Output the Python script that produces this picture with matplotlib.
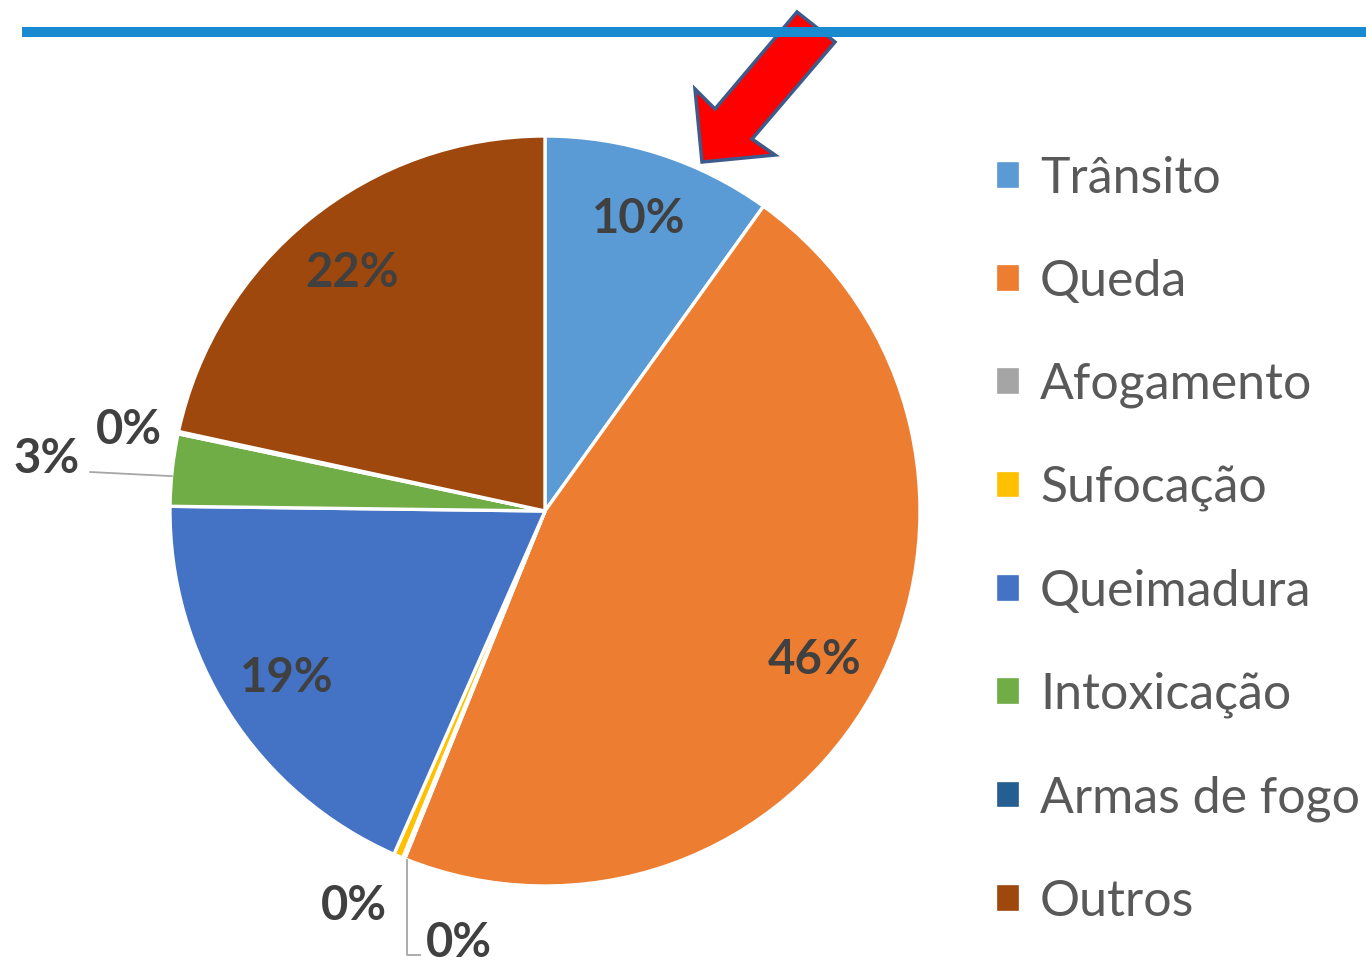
import matplotlib.pyplot as plt
from matplotlib.patches import Polygon
from matplotlib.lines import Line2D

plt.rcParams['font.family'] = ['Lato', 'DejaVu Sans']

categories = ['Trânsito', 'Queda', 'Afogamento', 'Sufocação', 'Queimadura',
              'Intoxicação', 'Armas de fogo', 'Outros']
values = [9.9, 46.2, 0.1, 0.4, 18.6, 3.1, 0.1, 21.6]
colors = ['#5B9BD5', '#ED7D31', '#A5A5A5', '#FFC000', '#4472C4',
          '#70AD47', '#255E91', '#9E480E']

W, H = 1366, 962
CX, CY, R = 545, 512, 375   # pie centre and radius in pixels

fig = plt.figure(figsize=(W / 100, H / 100), dpi=100)
ax = fig.add_axes([0, 0, 1, 1])

def inside_label(p):
    return f'{p:.0f}%' if p >= 1 else ''

wedges, texts, autotexts = ax.pie(
    values, colors=colors, startangle=90, counterclock=False,
    autopct=inside_label, pctdistance=0.82,
    wedgeprops=dict(edgecolor='white', linewidth=2.4),
    textprops=dict(fontsize=34, fontweight='bold', color='#404040'))

# small slices: labels outside (in radius units)
total = sum(values)
small = {
    'Intoxicação': (-1.33, 0.14),
    'Armas de fogo': (-1.11, 0.22),
    'Afogamento': (-0.51, -1.05),
    'Sufocação': (-0.23, -1.15),
}
for t in autotexts:
    t.set_visible(False)
for i, name in enumerate(categories):
    p = values[i] / total * 100
    if name in small:
        x, y = small[name]
        ax.text(x, y, f'{p:.0f}%', ha='center', va='center', fontsize=34,
                fontweight='bold', color='#404040')
    else:
        autotexts[i].set_visible(True)

# leader lines
ax.plot([-1.213, -0.995], [0.104, 0.093], color='#a6a6a6', lw=1.3)
ax.plot([-0.368, -0.368, -0.333], [-0.93, -1.185, -1.185], color='#a6a6a6', lw=1.3)

ax.set_xlim(-CX / R, (W - CX) / R)
ax.set_ylim(-(H - CY) / R, CY / R)
ax.axis('off')

leg = ax.legend(wedges, categories, loc='upper left',
                bbox_to_anchor=(995 / W, 1 - 156 / H), bbox_transform=fig.transFigure,
                frameon=False, fontsize=36, labelcolor='#595959',
                handlelength=0.5, handleheight=0.5, handletextpad=0.4,
                labelspacing=1.14, borderpad=0, borderaxespad=0)

# top blue rule
fig.add_artist(Line2D([22 / W, 1], [1 - 33 / H, 1 - 33 / H], color='#1a8ad0',
                      lw=7.2, solid_capstyle='butt', transform=fig.transFigure))

# red arrow pointing at the first slice
arrow_px = [(797, 13), (835, 43), (752, 140), (775, 156), (702, 163),
            (695, 90), (715, 110)]
arrow = Polygon([(x / W, 1 - y / H) for x, y in arrow_px], closed=True,
                facecolor='#ff0000', edgecolor='#3c5a8a', lw=2.5,
                transform=fig.transFigure, joinstyle='miter')
fig.add_artist(arrow)

fig.savefig('out.png', dpi=100, facecolor='white')
